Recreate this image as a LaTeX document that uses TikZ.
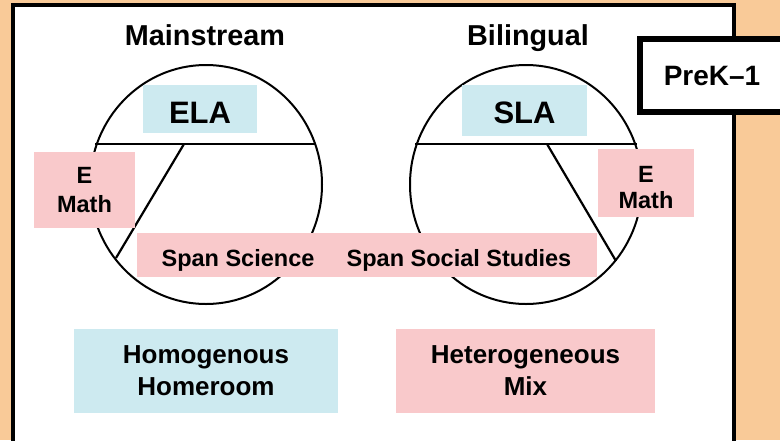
\documentclass[tikz,border=0pt]{standalone}
\usepackage{fontspec}
\setmainfont{Liberation Sans}
\definecolor{bgorange}{HTML}{F9CA98}
\definecolor{lblue}{HTML}{CDEAF0}
\definecolor{lpink}{HTML}{F9C9CB}
\begin{document}
\begin{tikzpicture}[x=1pt,y=-1pt,
  box/.style={inner sep=0pt, align=center, font=\bfseries\fontsize{23.5}{29}\selectfont},
  bluebox/.style={box, fill=lblue},
  pinkbox/.style={box, fill=lpink},
  label/.style={inner sep=0pt, anchor=base, font=\bfseries\fontsize{23.5}{29}\selectfont},
  biglabel/.style={label, font=\bfseries\fontsize{31}{34}\selectfont},
  title/.style={label, font=\bfseries\fontsize{28.8}{32}\selectfont},
  ring/.style={draw=black, line width=2pt},
  divider/.style={draw=black, line width=2.2pt}]
\useasboundingbox (0,0) rectangle (780,440);
\clip (0,0) rectangle (780,440);
\fill[bgorange] (0,0) rectangle (780,440);
\draw[line width=4pt, fill=white] (13,5) rectangle (734,460);
% PreK box
\draw[line width=6pt, fill=white] (640,39) rectangle (800,111.5);
\node[title, font=\bfseries\fontsize{28}{32}\selectfont] (prek) at (712,85) {PreK–1};
% titles
\node[title] (main) at (205,45) {Mainstream};
\node[title] (bil) at (528,45) {Bilingual};
% circles
\draw[ring] (206,184.5) ellipse [x radius=116, y radius=119.5];
\draw[ring] (526,184.5) ellipse [x radius=116, y radius=119.5];
% dividers
\coordinate (l1) at (95,144); \coordinate (l2) at (316,144);
\coordinate (l3) at (184,144); \coordinate (l4) at (116,258);
\coordinate (r1) at (415,144); \coordinate (r2) at (637,144);
\coordinate (r3) at (547,144); \coordinate (r4) at (616,261);
\draw[divider] (l1) -- (l2);
\draw[divider] (l3) -- (l4);
\draw[divider] (r1) -- (r2);
\draw[divider] (r3) -- (r4);
% boxes
\node[bluebox, minimum width=114, minimum height=48] (ela) at (200,109) {};
\node[biglabel] (elat) at (200,123) {ELA};
\node[bluebox, minimum width=125, minimum height=51] (sla) at (524.5,110.5) {};
\node[biglabel] (slat) at (524.5,123) {SLA};
\node[pinkbox, minimum width=101, minimum height=76] (emath1) at (84.5,190) {};
\node[label] (e1) at (84.5,183) {E};
\node[label] (m1) at (84.5,212) {Math};
\node[pinkbox, minimum width=96, minimum height=68] (emath2) at (646,183) {};
\node[label] (e2) at (646,182) {E};
\node[label] (m2) at (646,208) {Math};
\node[pinkbox, minimum width=460, minimum height=44] (span) at (367,255) {};
\node[label] (sci) at (238,266) {Span Science};
\node[label] (soc) at (459,266) {Span Social Studies};
\node[bluebox, minimum width=264, minimum height=84] (homo) at (206,371) {};
\node[label, font=\bfseries\fontsize{26}{32}\selectfont] (homo1) at (206,363) {Homogenous};
\node[label, font=\bfseries\fontsize{26}{32}\selectfont] (homo2) at (206,395) {Homeroom};
\node[pinkbox, minimum width=259, minimum height=84] (hetero) at (525.5,371) {};
\node[label, font=\bfseries\fontsize{26}{32}\selectfont] (het1) at (525.5,363) {Heterogeneous};
\node[label, font=\bfseries\fontsize{26}{32}\selectfont] (het2) at (525.5,395) {Mix};
\end{tikzpicture}
\end{document}
